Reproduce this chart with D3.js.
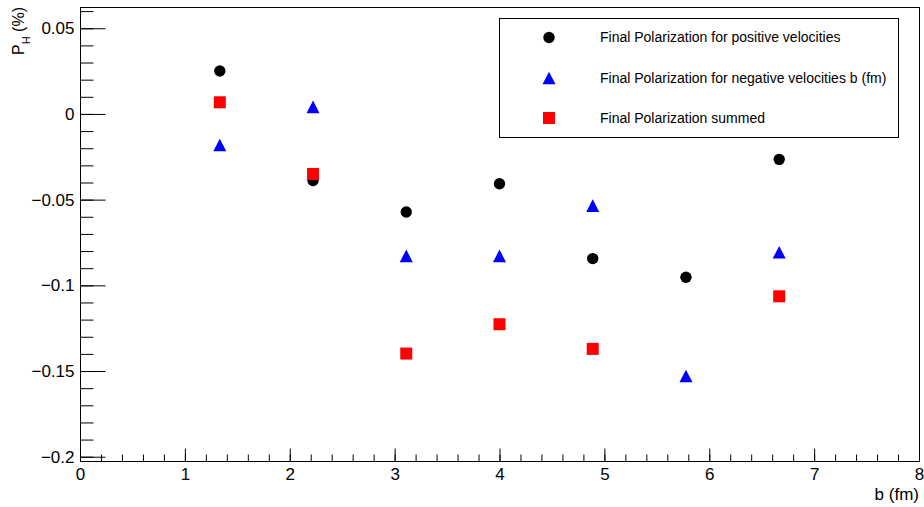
<!DOCTYPE html>
<meta charset="utf-8">
<style>
    body {
        margin: 0;
        background: white;
    }
    text {
        font-family: "Liberation Sans", Arial, sans-serif;
        fill: black;
    }
</style>
<body>
    <svg width="924" height="507"></svg>

    <script src="https://d3js.org/d3.v7.min.js"></script>
    <script>
        var bValues = [1.333, 2.222, 3.111, 4.0, 4.889, 5.778, 6.667];
        var polPositive = [0.0251, -0.0388, -0.0572, -0.0407, -0.0844, -0.0953, -0.0265];
        var polNegative = [-0.0181, 0.0041, -0.0828, -0.0828, -0.0535, -0.1529, -0.0807];
        var polSummed = [0.0068, -0.0350, -0.1398, -0.1227, -0.1371, null, -0.1064];
        var legendLabels = ["Final Polarization for positive velocities",
                            "Final Polarization for negative velocities b (fm)",
                            "Final Polarization summed"];
        var xTicks = [0, 1, 2, 3, 4, 5, 6, 7, 8];
        var yTicks = [0.05, 0, -0.05, -0.1, -0.15, -0.2];

        var svg = d3.select("svg");
        var frameLeft = 80, frameRight = 919, frameTop = 7, frameBottom = 461;

        var x = d3.scaleLinear().domain([0, 8]).range([frameLeft, frameRight]);
        var y = d3.scaleLinear().domain([-0.2025, 0.0624]).range([frameBottom, frameTop]);

        // ROOT style triangle, centred on its bounding box
        var rootTriangle = {
            draw: function(context, size) {
                var w = Math.sqrt(size), h = w * 0.97;
                context.moveTo(0, -h / 2);
                context.lineTo(w / 2, h / 2);
                context.lineTo(-w / 2, h / 2);
                context.closePath();
            }
        };
        var series = [
            {values: polPositive, color: "black", symbol: d3.symbol().type(d3.symbolCircle).size(Math.PI * 5.7 * 5.7)},
            {values: polNegative, color: "blue", symbol: d3.symbol().type(rootTriangle).size(13 * 13)},
            {values: polSummed, color: "red", symbol: d3.symbol().type(d3.symbolSquare).size(12 * 12)}
        ];

        // frame
        svg.append("rect")
            .attr("x", frameLeft + 0.5).attr("y", frameTop + 0.5)
            .attr("width", frameRight - frameLeft).attr("height", frameBottom - frameTop)
            .attr("fill", "none").attr("stroke", "black").attr("stroke-width", 1);

        var fmt = d3.format("~g");
        var minorY = d3.range(-20, 7).map(function(d) { return d / 100; });
        var minorX = d3.range(0, 41).map(function(d) { return d / 5; });

        var gy = svg.append("g").attr("transform", "translate(" + (frameLeft + 0.5) + ",0)");
        gy.call(d3.axisLeft(y).tickValues(minorY).tickSize(-13).tickFormat(""));
        gy.append("g").call(d3.axisLeft(y).tickValues(yTicks).tickSize(-25).tickPadding(6).tickFormat(fmt));
        gy.selectAll(".domain").remove();

        var gx = svg.append("g").attr("transform", "translate(0," + (frameBottom + 0.5) + ")");
        gx.call(d3.axisBottom(x).tickValues(minorX).tickSize(-7).tickFormat(""));
        gx.append("g").call(d3.axisBottom(x).tickValues(xTicks).tickSize(-13).tickPadding(6).tickFormat(fmt));
        gx.selectAll(".domain").remove();

        svg.selectAll(".tick line").attr("stroke", "black");
        svg.selectAll(".tick text")
            .attr("font-family", "Liberation Sans, Arial, sans-serif")
            .attr("font-size", "17px")
            .attr("fill", "black");

        // axis titles
        svg.append("text")
            .attr("x", frameRight).attr("y", 500)
            .attr("text-anchor", "end")
            .attr("font-size", "17px")
            .text("b (fm)");

        var yTitle = svg.append("text")
            .attr("transform", "translate(24,7) rotate(-90)")
            .attr("text-anchor", "end")
            .attr("font-size", "16px");
        yTitle.append("tspan").text("P");
        yTitle.append("tspan").attr("font-size", "11px").attr("dy", 6).text("H");
        yTitle.append("tspan").attr("dy", -6).text(" (%)");

        // data points
        series.forEach(function(s) {
            var pts = bValues.map(function(b, i) { return [b, s.values[i]]; })
                .filter(function(d) { return d[1] != null; });
            svg.append("g").selectAll("path")
                .data(pts)
                .enter().append("path")
                .attr("transform", function(d) { return "translate(" + x(d[0]) + "," + y(d[1]) + ")"; })
                .attr("d", s.symbol)
                .attr("fill", s.color);
        });

        // legend
        var legend = svg.append("g");
        legend.append("rect")
            .attr("x", 499.5).attr("y", 18.5)
            .attr("width", 399).attr("height", 119)
            .attr("fill", "white").attr("stroke", "black").attr("stroke-width", 1);
        var rowY = [37.5, 78, 118];
        series.forEach(function(s, i) {
            legend.append("path")
                .attr("transform", "translate(549," + rowY[i] + ")")
                .attr("d", s.symbol)
                .attr("fill", s.color);
            legend.append("text")
                .attr("x", 600).attr("y", rowY[i])
                .attr("dy", "0.35em")
                .attr("font-size", "14px")
                .text(legendLabels[i]);
        });
    </script>
</body>
